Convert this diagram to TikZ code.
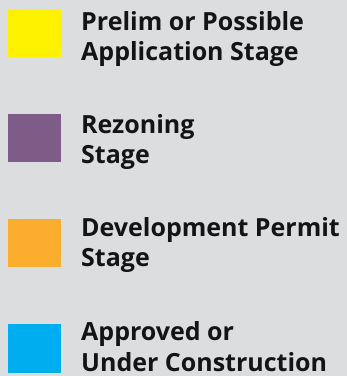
\documentclass[tikz,border=0pt]{standalone}
\usepackage{fontspec}
\setmainfont{Open Sans}
\definecolor{bg}{HTML}{DCDDDF}
\definecolor{cyel}{HTML}{FFF200}
\definecolor{cpur}{HTML}{7D5C87}
\definecolor{corg}{HTML}{FBAE2E}
\definecolor{cblu}{HTML}{00AEEF}
\begin{document}
\begin{tikzpicture}[x=1pt,y=-1pt,
  swatch/.style={fill=#1,draw=none},
  lbl/.style={anchor=base west,inner sep=0pt,font=\fontsize{25}{30}\selectfont\bfseries,text=black!92}]
\fill[bg] (0,0) rectangle (347,376);
\useasboundingbox (0,0) rectangle (347,376);
\path[swatch=cyel] (8,9) rectangle (61,57);
\path[swatch=cpur] (8,114) rectangle (61,162);
\path[swatch=corg] (8,219) rectangle (61,267);
\path[swatch=cblu] (8,324) rectangle (61,373);
\node[lbl] (a1) at (81,30) {Prelim or Possible};
\node[lbl] (a2) at (81,60) {Application Stage};
\node[lbl] (b1) at (81,133) {Rezoning};
\node[lbl] (b2) at (81,163) {Stage};
\node[lbl] (c1) at (81,236) {Development Permit};
\node[lbl] (c2) at (81,266) {Stage};
\node[lbl] (d1) at (81,340) {Approved or};
\node[lbl] (d2) at (81,371) {Under Construction};
\end{tikzpicture}
\end{document}
